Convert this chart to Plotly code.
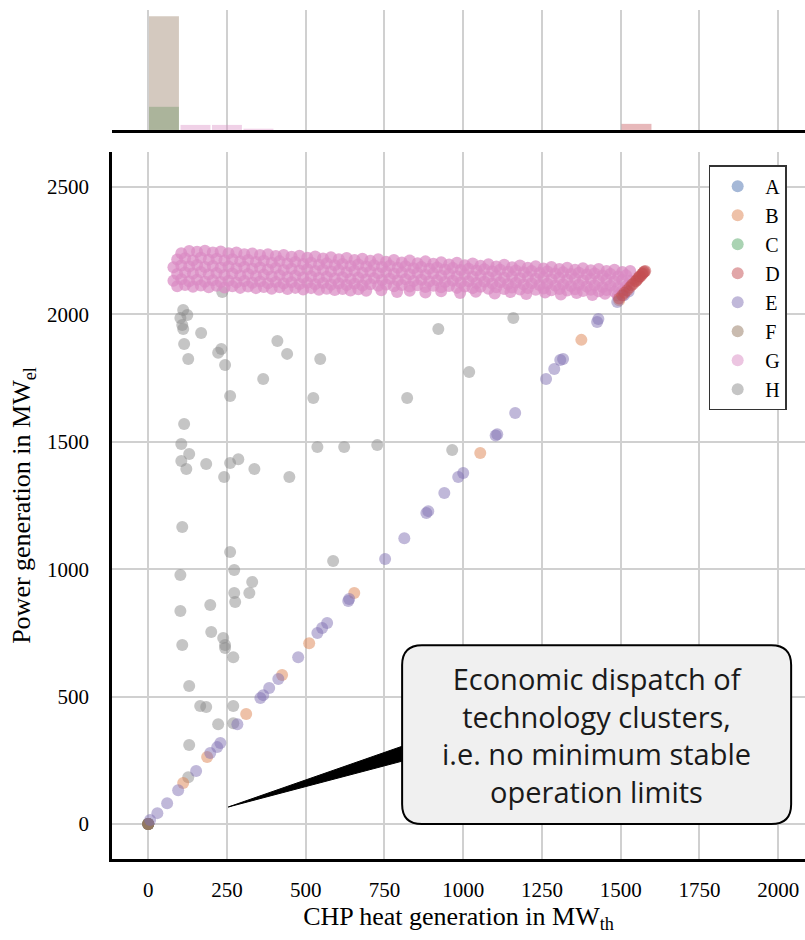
import plotly.graph_objects as go

# ---- cluster operating points: CHP heat (MW_th) vs power (MW_el) ----
a_heat = [0]
a_power = [0]

b_heat = [111, 187, 311, 425, 511, 654, 1054, 1375, 1495]
b_power = [161, 263, 432, 585, 710, 907, 1456, 1900, 2055]

c_heat = [0]
c_power = [0]

d_heat = [1495, 1505, 1512, 1520, 1528, 1535, 1540, 1547, 1550, 1553, 1558,
          1560, 1563, 1568, 1570, 1573, 1575, 1578]
d_power = [2062, 2075, 2085, 2095, 2105, 2115, 2120, 2130, 2132, 2138, 2145,
           2150, 2150, 2158, 2160, 2165, 2168, 2170]

e_heat = [6, 29, 60, 95, 152, 197, 219, 229, 283, 356, 365, 384, 413, 476,
          537, 552, 568, 635, 638, 752, 813, 883, 889, 940, 984, 1000, 1103,
          1108, 1165, 1263, 1289, 1308, 1317, 1425, 1429, 1489, 1510, 1525]
e_power = [16, 43, 82, 133, 208, 279, 302, 318, 392, 495, 506, 534, 569, 655,
           750, 769, 789, 875, 883, 1040, 1122, 1221, 1228, 1299, 1362, 1378,
           1525, 1530, 1613, 1746, 1786, 1821, 1825, 1970, 1982, 2049, 2075,
           2090]

f_heat = [0, 0, 0, 0, 0, 0]
f_power = [0, 0, 0, 0, 0, 0]

# cluster G: dense band of operating points near full power output
g_heat_1 = [105, 130, 155, 180, 205, 230, 255, 280, 305, 330, 355, 380, 405,
            430, 455, 480, 505, 530, 555, 580, 605, 630, 655, 680, 705, 730,
            755, 780, 805, 830, 855, 880, 905, 930, 955, 980, 1005, 1030, 1055,
            1080, 1105, 1130, 1155, 1180, 1205, 1230, 1255, 1280, 1305, 1330,
            1355, 1380, 1405, 1430, 1455, 1480, 1505, 1530]
g_power_1 = [2240, 2249, 2246, 2250, 2243, 2247, 2240, 2243, 2236, 2239,
             2233, 2236, 2229, 2233, 2226, 2230, 2222, 2227, 2219, 2224,
             2216, 2221, 2213, 2218, 2210, 2216, 2207, 2213, 2204, 2211,
             2201, 2208, 2199, 2205, 2196, 2203, 2193, 2200, 2191, 2197,
             2188, 2195, 2185, 2192, 2183, 2189, 2180, 2186, 2178, 2183,
             2175, 2181, 2173, 2178, 2170, 2175, 2166, 2170]
g_heat_2 = [92, 117, 142, 167, 192, 217, 242, 267, 292, 317, 342, 367, 392,
            417, 442, 467, 492, 517, 542, 567, 592, 617, 642, 667, 692, 717,
            742, 767, 792, 817, 842, 867, 892, 917, 942, 967, 992, 1017, 1042,
            1067, 1092, 1117, 1142, 1167, 1192, 1217, 1242, 1267, 1292, 1317,
            1342, 1367, 1392, 1417, 1442, 1467, 1492, 1517]
g_power_2 = [2215, 2220, 2212, 2222, 2214, 2218, 2211, 2216, 2208, 2213,
             2206, 2210, 2203, 2209, 2200, 2206, 2198, 2203, 2195, 2201,
             2193, 2198, 2190, 2196, 2188, 2193, 2186, 2191, 2183, 2189,
             2181, 2186, 2179, 2184, 2176, 2182, 2174, 2179, 2172, 2177,
             2169, 2175, 2167, 2172, 2165, 2170, 2162, 2168, 2160, 2165,
             2158, 2163, 2156, 2160, 2153, 2158, 2150, 2154]
g_heat_3 = [80, 105, 130, 155, 180, 205, 230, 255, 280, 305, 330, 355, 380,
            405, 430, 455, 480, 505, 530, 555, 580, 605, 630, 655, 680, 705,
            730, 755, 780, 805, 830, 855, 880, 905, 930, 955, 980, 1005, 1030,
            1055, 1080, 1105, 1130, 1155, 1180, 1205, 1230, 1255, 1280, 1305,
            1330, 1355, 1380, 1405, 1430, 1455, 1480, 1505, 1530]
g_power_3 = [2185, 2192, 2188, 2194, 2186, 2190, 2183, 2188, 2181, 2186,
             2179, 2184, 2176, 2182, 2174, 2179, 2172, 2177, 2170, 2175,
             2168, 2173, 2165, 2171, 2163, 2168, 2161, 2166, 2159, 2164,
             2157, 2162, 2155, 2160, 2152, 2158, 2150, 2156, 2148, 2153,
             2146, 2151, 2144, 2149, 2142, 2147, 2140, 2145, 2138, 2143,
             2136, 2141, 2134, 2139, 2132, 2137, 2130, 2135, 2132]
g_heat_4 = [92, 117, 142, 167, 192, 217, 242, 267, 292, 317, 342, 367, 392,
            417, 442, 467, 492, 517, 542, 567, 592, 617, 642, 667, 692, 717,
            742, 767, 792, 817, 842, 867, 892, 917, 942, 967, 992, 1017, 1042,
            1067, 1092, 1117, 1142, 1167, 1192, 1217, 1242, 1267, 1292, 1317,
            1342, 1367, 1392, 1417, 1442, 1467, 1492, 1517]
g_power_4 = [2158, 2164, 2160, 2166, 2157, 2162, 2155, 2160, 2153, 2158,
             2151, 2156, 2149, 2154, 2147, 2152, 2145, 2150, 2143, 2148,
             2141, 2146, 2139, 2144, 2137, 2142, 2135, 2140, 2133, 2138,
             2131, 2136, 2129, 2134, 2127, 2132, 2125, 2130, 2123, 2128,
             2121, 2126, 2119, 2124, 2117, 2122, 2115, 2120, 2113, 2118,
             2111, 2116, 2109, 2114, 2107, 2112, 2105, 2110]
g_heat_5 = [80, 105, 130, 155, 180, 205, 230, 255, 280, 305, 330, 355, 380,
            405, 430, 455, 480, 505, 530, 555, 580, 605, 630, 655, 680, 705,
            730, 755, 780, 805, 830, 855, 880, 905, 930, 955, 980, 1005, 1030,
            1055, 1080, 1105, 1130, 1155, 1180, 1205, 1230, 1255, 1280, 1305,
            1330, 1355, 1380, 1405, 1430, 1455, 1480, 1505]
g_power_5 = [2132, 2138, 2130, 2136, 2128, 2134, 2127, 2132, 2125, 2131,
             2124, 2129, 2122, 2127, 2121, 2126, 2119, 2124, 2118, 2123,
             2116, 2121, 2115, 2120, 2113, 2118, 2112, 2117, 2110, 2115,
             2109, 2114, 2107, 2112, 2106, 2111, 2104, 2109, 2103, 2108,
             2101, 2106, 2100, 2105, 2098, 2103, 2097, 2102, 2095, 2100,
             2094, 2099, 2092, 2097, 2091, 2096, 2089, 2094]
g_heat_6 = [92, 117, 142, 167, 192, 217, 242, 267, 292, 317, 342, 367, 392,
            417, 442, 467, 492, 517, 542, 567, 592, 617, 642, 667, 692, 740,
            790, 830, 880, 930, 990, 1040, 1100, 1150, 1200, 1260, 1310, 1360,
            1410, 1450, 1490]
g_power_6 = [2110, 2115, 2108, 2113, 2106, 2112, 2105, 2110, 2104, 2109,
             2103, 2107, 2101, 2106, 2100, 2104, 2098, 2103, 2097, 2101,
             2096, 2100, 2094, 2099, 2093, 2095, 2088, 2093, 2086, 2091,
             2084, 2089, 2082, 2088, 2080, 2086, 2078, 2084, 2076, 2081, 2074]

g_heat = g_heat_1 + g_heat_2 + g_heat_3 + g_heat_4 + g_heat_5 + g_heat_6
g_power = g_power_1 + g_power_2 + g_power_3 + g_power_4 + g_power_5 + g_power_6

h_heat = [111, 124, 102, 108, 111, 168, 114, 127, 232, 222, 244, 410, 441, 365,
          260, 114, 105, 130, 105, 121, 184, 241, 260, 286, 337, 448, 108, 260,
          273, 102, 330, 273, 321, 276, 197, 102, 200, 238, 244, 244, 270, 108,
          130, 165, 184, 270, 222, 270, 130, 127, 546, 524, 822, 921, 1019,
          1159, 537, 622, 727, 965, 587, 235]
h_power = [2017, 1998, 1986, 1958, 1943, 1927, 1884, 1825, 1864, 1849, 1801,
           1896, 1845, 1746, 1680, 1570, 1491, 1452, 1425, 1393, 1413, 1362,
           1417, 1432, 1393, 1362, 1166, 1068, 997, 977, 950, 907, 907, 871,
           860, 836, 754, 730, 703, 691, 655, 703, 542, 463, 459, 463, 392,
           396, 310, 184, 1825, 1672, 1672, 1943, 1774, 1986, 1480, 1480, 1487,
           1468, 1032, 2088]

# ---- marginal histogram of heat output (counts per 100 MW_th bin) ----
c_hist_bins = [50]
c_hist_counts = [1100]
f_hist_bins = [50]
f_hist_counts = [5400]
g_hist_bins = [150, 250, 350]
g_hist_counts = [240, 240, 60]
d_hist_bins = [1550]
d_hist_counts = [290]

x_ticks = [0, 250, 500, 750, 1000, 1250, 1500, 1750, 2000]
y_ticks = [0, 500, 1000, 1500, 2000, 2500]
x_tick_text = [str(v) for v in x_ticks]
y_tick_text = [str(v) for v in y_ticks]

colors = {
    "A": "76,114,176", "B": "221,132,82", "C": "85,168,104", "D": "196,78,82",
    "E": "129,114,179", "F": "147,120,96", "G": "218,139,195", "H": "140,140,140",
}
rank = {k: i for i, k in enumerate("ABCDEFGH")}

scatter_data = [
    ("H", h_heat, h_power), ("A", a_heat, a_power), ("C", c_heat, c_power),
    ("F", f_heat, f_power), ("G", g_heat, g_power), ("B", b_heat, b_power),
    ("E", e_heat, e_power), ("D", d_heat, d_power),
]

serif = "Liberation Serif"
fig = go.Figure()

for name, xs, ys in scatter_data:
    # the G cloud is so dense that its overlapping markers saturate
    alpha = 0.72 if name == "G" else 0.5
    fig.add_trace(go.Scatter(
        x=xs, y=ys, mode="markers", name=name, legendrank=rank[name],
        showlegend=(name != "G"),
        marker=dict(size=12, color=f"rgba({colors[name]},{alpha})", line=dict(width=0)),
        xaxis="x", yaxis="y",
    ))
# legend entry for G with the single-marker tint
fig.add_trace(go.Scatter(
    x=[None], y=[None], mode="markers", name="G", legendrank=rank["G"],
    marker=dict(size=12, color=f"rgba({colors['G']},0.5)", line=dict(width=0)),
    xaxis="x", yaxis="y",
))

for name, bins, counts in [("C", c_hist_bins, c_hist_counts),
                           ("F", f_hist_bins, f_hist_counts),
                           ("G", g_hist_bins, g_hist_counts),
                           ("D", d_hist_bins, d_hist_counts)]:
    fig.add_trace(go.Bar(
        x=bins, y=counts, width=95, showlegend=False,
        marker=dict(color=f"rgba({colors[name]},0.4)", line=dict(width=0)),
        xaxis="x2", yaxis="y2",
    ))

# ---- callout box with wedge pointer ----
bx0, bx1, by0, by1 = 806, 2041, 0, 702
rx, ry = 63, 78
box_path = (f"M {bx0+rx},{by1} L {bx1-rx},{by1} Q {bx1},{by1} {bx1},{by1-ry} "
            f"L {bx1},{by0+ry} Q {bx1},{by0} {bx1-rx},{by0} L {bx0+rx},{by0} "
            f"Q {bx0},{by0} {bx0},{by0+ry} L {bx0},{by1-ry} Q {bx0},{by1} {bx0+rx},{by1} Z")
wedge_path = "M 254,67 L 840,320 L 840,258 Z"

fig.add_shape(type="path", path=wedge_path, xref="x", yref="y",
              fillcolor="black", line=dict(color="black", width=1), layer="above")
fig.add_shape(type="path", path=box_path, xref="x", yref="y",
              fillcolor="#f0f0f0", line=dict(color="black", width=2), layer="above")
fig.add_annotation(
    x=(bx0 + bx1) / 2, y=(by0 + by1) / 2, xref="x", yref="y",
    text="Economic dispatch of<br>technology clusters,<br>i.e. no minimum stable<br>operation limits",
    showarrow=False, align="center",
    font=dict(family="Open Sans", size=29, color="#1a1a1a"),
)

tick_font = dict(family=serif, size=21, color="black")
title_font = dict(family=serif, size=26, color="black")

fig.update_layout(
    template="none",
    width=805, height=940,
    margin=dict(l=112, r=0, t=10, b=81),
    paper_bgcolor="white", plot_bgcolor="white",
    font=dict(family=serif, color="black", size=21),
    barmode="overlay",
    xaxis=dict(
        domain=[0, 1], range=[-115, 2085],
        tickmode="array", tickvals=x_ticks, ticktext=x_tick_text,
        showline=True, linecolor="black", linewidth=2.5,
        showgrid=True, gridcolor="#d0d0d0", gridwidth=1.6, zeroline=False,
        ticks="outside", ticklen=10, tickcolor="rgba(0,0,0,0)",
        tickfont=tick_font, anchor="y",
        title=dict(text="CHP heat generation in MW<sub>th</sub>",
                   font=title_font, standoff=5),
    ),
    yaxis=dict(
        domain=[0, 0.8327], range=[-137, 2637],
        tickmode="array", tickvals=y_ticks, ticktext=y_tick_text,
        showline=True, linecolor="black", linewidth=2.5,
        showgrid=True, gridcolor="#d0d0d0", gridwidth=1.6, zeroline=False,
        ticks="outside", ticklen=16, tickcolor="rgba(0,0,0,0)",
        tickfont=tick_font, anchor="x",
        title=dict(text="Power generation in MW<sub>el</sub>",
                   font=title_font, standoff=9),
    ),
    xaxis2=dict(
        domain=[0, 1], matches="x", anchor="y2", showticklabels=False,
        showline=True, linecolor="black", linewidth=2.5, ticks="",
        showgrid=True, gridcolor="#d0d0d0", gridwidth=1.6, zeroline=False,
        tickvals=x_ticks,
    ),
    yaxis2=dict(
        domain=[0.8587, 1], range=[0, 5700], showgrid=False, ticks="",
        showticklabels=False, zeroline=False, showline=False,
    ),
    legend=dict(
        x=0.861, y=0.817, xanchor="left", yanchor="top",
        bgcolor="white", bordercolor="#333333", borderwidth=1.5,
        font=dict(family=serif, size=20, color="black"),
        itemsizing="constant", itemwidth=45,
    ),
)

fig.write_html("out.html")
